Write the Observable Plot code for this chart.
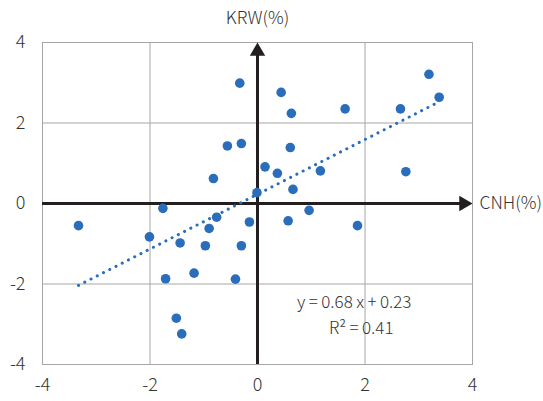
<!DOCTYPE html>
<html>
<head>
<meta charset="utf-8">
<script src="https://cdn.jsdelivr.net/npm/d3@7"></script>
<script src="https://cdn.jsdelivr.net/npm/@observablehq/plot@0.6"></script>
<style>
  html, body { margin: 0; padding: 0; background: #fff; }
  #chart { width: 543px; height: 401px; }
</style>
</head>
<body>
<div id="chart"></div>
<script>
// CNH daily change (%) — x
const cnh = [-3.33, -2.01, -1.76, -1.71, -1.51, -1.44, -1.41, -1.18, -0.97, -0.90,
             -0.82, -0.76, -0.56, -0.41, -0.33, -0.30, -0.30, -0.15, -0.01, 0.14,
              0.37, 0.44, 0.57, 0.61, 0.63, 0.66, 0.96, 1.17, 1.63, 1.86,
              2.66, 2.76, 3.19, 3.38];
// KRW daily change (%) — y
const krw = [-0.55, -0.83, -0.12, -1.87, -2.85, -0.98, -3.24, -1.73, -1.05, -0.62,
              0.62, -0.34, 1.43, -1.88, 2.99, 1.49, -1.05, -0.46, 0.27, 0.91,
              0.75, 2.76, -0.43, 1.39, 2.24, 0.35, -0.17, 0.81, 2.35, -0.55,
              2.35, 0.79, 3.21, 2.64];
const ticks = [-4, -2, 0, 2, 4];
const slope = 0.68, intercept = 0.23;
const eqText = "y\u2009=\u20090.68\u2009x\u2009+\u20090.23";
const r2Text = "R\u00B2\u2009=\u20090.41";
const xLabel = "CNH(%)";
const yLabel = "KRW(%)";

const points = cnh.map((x, i) => ({x, y: krw[i]}));
const xs = d3.extent(cnh);
const trend = xs.map(x => ({x, y: slope * x + intercept}));

const blue = "#2a6ebb";
const dark = "#231f20";
const grid = "#a6a6a6";
const font = "'Noto Sans CJK KR', 'Noto Sans', sans-serif";
const fmt = d => String(d);

const chart = Plot.plot({
  width: 543,
  height: 401,
  marginLeft: 42,
  marginRight: 71,
  marginTop: 42,
  marginBottom: 37,
  style: {fontFamily: font, fontSize: "18px", color: "#333", background: "#fff"},
  x: {domain: [-4, 4], ticks, label: null},
  y: {domain: [-4, 4], ticks, label: null},
  marks: [
    Plot.gridX(ticks, {stroke: grid, strokeOpacity: 1, strokeWidth: 1}),
    Plot.gridY(ticks, {stroke: grid, strokeOpacity: 1, strokeWidth: 1}),
    Plot.frame({stroke: grid, strokeWidth: 1}),
    Plot.axisX(ticks, {label: null, tickSize: 0, tickPadding: 14, fontSize: 18, fontWeight: 300, fill: "#333", tickFormat: fmt}),
    Plot.axisY(ticks, {label: null, tickSize: 0, tickPadding: 17, fontSize: 18, fontWeight: 300, fill: "#333", tickFormat: fmt}),
    Plot.ruleY([0], {stroke: dark, strokeWidth: 3, insetRight: 10}),
    Plot.ruleX([0], {stroke: dark, strokeWidth: 3, insetTop: 10}),
    Plot.dot([{x: 0, y: 4}], {x: "x", y: "y", symbol: "triangle", r: 5.7, fill: dark, stroke: "none", dy: 8.8}),
    Plot.dot([{x: 4, y: 0}], {x: "x", y: "y", symbol: "triangle", r: 5.7, fill: dark, stroke: "none", rotate: 90, dx: -8.8}),
    Plot.line(trend, {x: "x", y: "y", stroke: blue, strokeWidth: 3, strokeDasharray: "0.1 6.9", strokeLinecap: "round"}),
    Plot.dot(points, {x: "x", y: "y", r: 4.8, fill: blue, stroke: "none"}),
    Plot.text([yLabel], {x: () => 0, y: () => 4, text: d => d, dy: -24, fontSize: 17.5, fontWeight: 300, fill: "#333"}),
    Plot.text([xLabel], {x: () => 4, y: () => 0, text: d => d, dx: 7, textAnchor: "start", fontSize: 17.5, fontWeight: 300, fill: "#333"}),
    Plot.text([eqText], {x: () => 1.8, y: () => -2.45, text: d => d, fontSize: 17, fontWeight: 300, fill: "#333"}),
    Plot.text([r2Text], {x: () => 1.93, y: () => -3.1, text: d => d, fontSize: 17, fontWeight: 300, fill: "#333"})
  ]
});
document.getElementById("chart").appendChild(chart);
</script>
</body>
</html>
